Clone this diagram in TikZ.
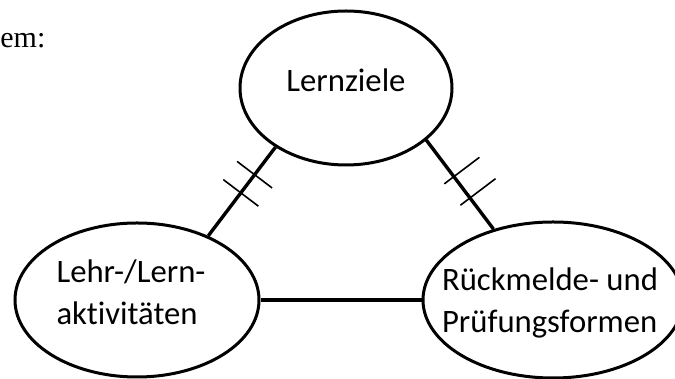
\documentclass[tikz,border=0pt]{standalone}
\usepackage{fontspec}
\setmainfont{Carlito}[Ligatures={NoCommon}]
\newfontfamily\serifschrift{Liberation Serif}
\usetikzlibrary{calc}
\usetikzlibrary{positioning}
\usetikzlibrary{shapes.geometric}
\tikzset{
  feld/.style={ellipse, draw, line width=1.5pt, inner sep=0pt},
  beschr/.style={align=left, inner sep=0pt, font=\fontsize{16.35pt}{21pt}\selectfont},
  verb/.style={line width=1.7pt},
  strich/.style={line width=0.8pt}
}

\begin{document}
\begin{tikzpicture}[x=0.5pt,y=0.5pt]
  \useasboundingbox (0,0) rectangle (675,379);
  \node [anchor=base west, inner sep=0pt, font=\serifschrift\fontsize{15pt}{18pt}\selectfont] (em) at (0,331) {em:};

  \node [feld, minimum width=106pt, minimum height=77pt] (lz) at (346,291) {};
  \node [feld, minimum width=122pt, minimum height=77pt] (le) at (137,79) {};
  \node [feld, minimum width=130pt, minimum height=78pt, right=80.5pt of le] (rf) {};

  \node [beschr, anchor=base] (lzt) at ([yshift=-2pt]lz.center) {Lernziele};
  \node [beschr, xshift=-3pt, yshift=4pt] (let) at (le.center) {Lehr-/Lern-\\aktivitäten};
  \node [beschr, xshift=-1.5pt, yshift=-1.5pt] (rft) at (rf.center) {Rückmelde- und\\Prüfungsformen};

  \draw [verb] (lz.220) -- coordinate[pos=0.31] (a1) coordinate[pos=0.515] (a2) (le.42);
  \draw [verb] (lz.-33) -- coordinate[pos=0.41] (b1) coordinate[pos=0.65] (b2) (rf.130);
  \draw [verb] (le) -- (rf);

  % Doppelstriche
  \foreach \m in {a1,a2}
    \draw [strich] ($(\m)!11pt!90:(lz.220)$) -- ($(\m)!11pt!-90:(lz.220)$);
  \foreach \m in {b1,b2}
    \draw [strich] ($(\m)!6pt!90:(lz.-33)$) -- ($(\m)!16pt!-90:(lz.-33)$);
\end{tikzpicture}
\end{document}
